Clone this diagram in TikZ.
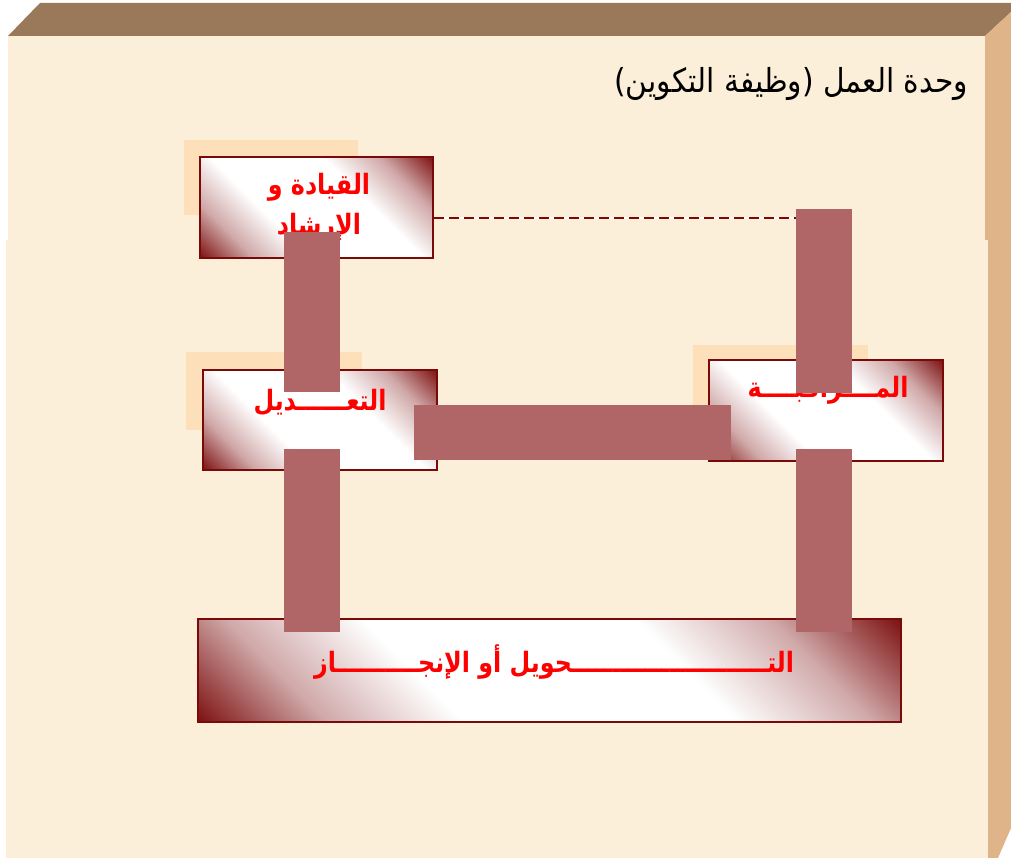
\documentclass[tikz,border=0pt]{standalone}
\usepackage{fontspec}
\TeXXeTstate=1
\newfontfamily\arabicfont[Script=Arabic, FakeStretch=0.85]{DejaVu Sans}
\newfontfamily\arabictitle[Script=Arabic, FakeStretch=0.9]{DejaVu Sans}
\definecolor{topc}{HTML}{9A795A}
\definecolor{sidec}{HTML}{E0B489}
\definecolor{frontc}{HTML}{FBEFD9}
\definecolor{shadc}{HTML}{FDDFB9}
\definecolor{dkred}{HTML}{7A0A0A}
\definecolor{barc}{HTML}{B06666}
\definecolor{txtred}{HTML}{FF0000}
\pgfdeclareverticalshading{boxsh}{100bp}{color(0bp)=(dkred); color(14bp)=(dkred); color(26bp)=(dkred!35!white); color(38bp)=(white); color(62bp)=(white); color(74bp)=(dkred!35!white); color(86bp)=(dkred); color(100bp)=(dkred)}
\tikzset{
  mbox/.style={draw=dkred, line width=1.8pt, shading=boxsh, shading angle=-45, inner sep=0pt},
  shadowbox/.style={fill=shadc, draw=none},
  bar/.style={fill=barc, draw=none},
  rtxt/.style={text=txtred, font=\arabicfont\bfseries\fontsize{28}{40}\selectfont, align=center, inner sep=0pt},
  ttl/.style={text=black, font=\arabictitle\fontsize{33}{36}\selectfont, inner sep=0pt},
  dashln/.style={draw=dkred, line width=2.2pt, dash pattern=on 10pt off 5pt}
}
\begin{document}
\begin{tikzpicture}[x=1pt,y=-1pt]
\useasboundingbox (0,0) rectangle (1011,858);
\fill[white] (0,0) rectangle (1011,858);
% 3D frame
\fill[topc] (8,36) -- (40,3) -- (1011,3) -- (1011,12) -- (985,36) -- cycle;
\fill[sidec] (985,36) -- (1011,12) -- (1011,828) -- (998,858) -- (985,858) -- cycle;
\fill[frontc] (8,36) rectangle (985,240);
\fill[frontc] (6,240) rectangle (988,858);
% title
\node[ttl, anchor=east] (title) at (968,84) {\beginR وحدة العمل (وظيفة التكوين)\endR};
% shadows
\fill[shadowbox] (184,140) rectangle (358,215);
\fill[shadowbox] (186,352) rectangle (362,430);
\fill[shadowbox] (693,345) rectangle (868,430);
% boxes
\node[mbox, minimum width=233pt, minimum height=101pt] (lead) at (316.5,207.5) {};
\node[mbox, minimum width=234pt, minimum height=100pt] (adj) at (320,420) {};
\node[mbox, minimum width=234pt, minimum height=101pt] (mon) at (826,410.5) {};
\node[mbox, minimum width=703pt, minimum height=103pt] (trans) at (549.5,670.5) {};
% texts
\node[rtxt] (leadt) at (319,207) {\beginR القيادة و\endR\\\beginR الإرشاد\endR};
\node[rtxt] (adjt) at (320,402) {\beginR التعــــــديل\endR};
\node[rtxt] (mont) at (828,390) {\beginR المــــراقبــــة\endR};
\node[rtxt] (transt) at (554,662) {\beginR التــــــــــــــــــــــــحويل أو الإنجــــــــــاز\endR};
% dashed link
\coordinate (dashend) at (800,218);
\draw[white, line width=2.2pt] (lead.east |- dashend) -- (dashend);
\draw[dashln] (lead.east |- dashend) -- (dashend);
% bars (connectors)
\fill[bar] (284,232) rectangle (340,392);
\fill[bar] (284,449) rectangle (340,632);
\fill[bar] (414,405) rectangle (731,460);
\fill[bar] (796,209) rectangle (852,393);
\fill[bar] (796,449) rectangle (852,632);
\end{tikzpicture}
\end{document}
